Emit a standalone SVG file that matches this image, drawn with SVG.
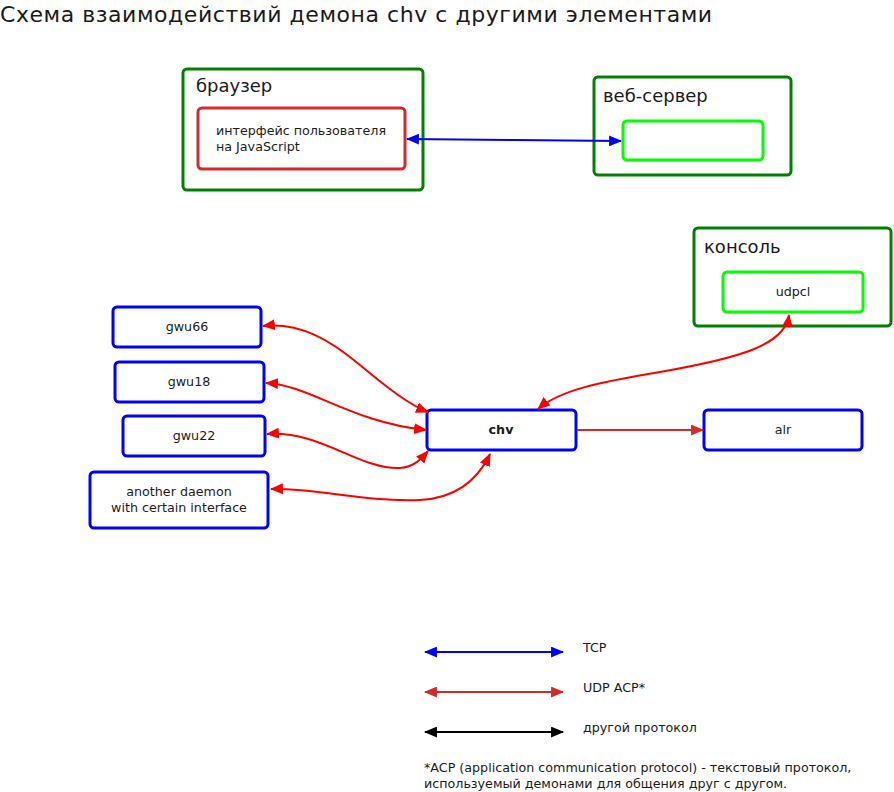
<svg xmlns="http://www.w3.org/2000/svg" width="894" height="792" viewBox="0 0 894 792">
<style>
text{font-family:"DejaVu Sans","Liberation Sans",sans-serif;fill:#1a1a1a}
.t{font-size:22px;letter-spacing:0.55px}
.h{font-size:18px}
.s{font-size:12.7px}
.c{text-anchor:middle}
.grp{fill:none;stroke:#008000;stroke-width:3}
.red{fill:#fff;stroke:#d42a2a;stroke-width:3}
.lime{fill:#fff;stroke:#00ff00;stroke-width:3}
.blue{fill:#fff;stroke:#0000ff;stroke-width:3}
.cr{fill:none;stroke:#ff0000;stroke-width:2}
</style>
<defs>
<marker id="aR" viewBox="0 0 12 10" markerWidth="13" markerHeight="11" refX="11" refY="5" orient="auto-start-reverse" markerUnits="userSpaceOnUse"><path d="M0,0 L12,5 L0,10 z" fill="#ff0000"/></marker>
<marker id="aD" viewBox="0 0 12 10" markerWidth="13" markerHeight="11" refX="11" refY="5" orient="auto-start-reverse" markerUnits="userSpaceOnUse"><path d="M0,0 L12,5 L0,10 z" fill="#d42a2a"/></marker>
<marker id="aB" viewBox="0 0 12 10" markerWidth="13" markerHeight="11" refX="11" refY="5" orient="auto-start-reverse" markerUnits="userSpaceOnUse"><path d="M0,0 L12,5 L0,10 z" fill="#0000ff"/></marker>
<marker id="aK" viewBox="0 0 12 10" markerWidth="13" markerHeight="11" refX="11" refY="5" orient="auto-start-reverse" markerUnits="userSpaceOnUse"><path d="M0,0 L12,5 L0,10 z" fill="#000000"/></marker>
</defs>
<rect width="894" height="792" fill="#fff"/>
<text class="t" x="0" y="22">Схема взаимодействий демона chv с другими элементами</text>

<g id="browser">
<rect class="grp" x="183" y="69" width="240" height="121" rx="4"/>
<text class="h" x="196" y="92">браузер</text>
</g>
<g id="js-ui">
<rect class="red" x="198" y="108" width="207" height="61" rx="4"/>
<text class="s" x="216" y="135">интерфейс пользователя</text>
<text class="s" x="216" y="151">на JavaScript</text>
</g>
<g id="webserver">
<rect class="grp" x="594" y="77" width="197" height="98" rx="4"/>
<text class="h" x="603" y="102">веб-сервер</text>
</g>
<g id="webserver-inner">
<rect class="lime" x="623" y="121" width="140" height="39" rx="4"/>
</g>
<g id="console">
<rect class="grp" x="694" y="228" width="197" height="98" rx="4"/>
<text class="h" x="704" y="253">консоль</text>
</g>
<g id="udpcl">
<rect class="lime" x="723" y="272" width="140" height="40" rx="4"/>
<text class="s c" x="793" y="296">udpcl</text>
</g>
<g id="chv">
<rect class="blue" x="427" y="410" width="149" height="40" rx="4"/>
<text class="s c" x="501" y="434" font-weight="bold">chv</text>
</g>
<g id="alr">
<rect class="blue" x="704" y="410" width="158" height="40" rx="4"/>
<text class="s c" x="783" y="434">alr</text>
</g>
<g id="gwu66">
<rect class="blue" x="113" y="307" width="148" height="40" rx="4"/>
<text class="s c" x="187" y="331">gwu66</text>
</g>
<g id="gwu18">
<rect class="blue" x="115" y="362" width="149" height="40" rx="4"/>
<text class="s c" x="189" y="386">gwu18</text>
</g>
<g id="gwu22">
<rect class="blue" x="123" y="416" width="142" height="40" rx="4"/>
<text class="s c" x="194" y="440">gwu22</text>
</g>
<g id="another">
<rect class="blue" x="90" y="472" width="178" height="56" rx="4"/>
<text class="s c" x="179" y="496">another daemon</text>
<text class="s c" x="179" y="512">with certain interface</text>
</g>

<g id="connectors">
<path d="M407,139 L515,140 L621,141" fill="none" stroke="#0000ff" stroke-width="2" marker-start="url(#aB)" marker-end="url(#aB)"/>
<path class="cr" d="M263,326 C300,322 330,340 360,365 S410,405 428,412" marker-start="url(#aR)" marker-end="url(#aR)"/>
<path class="cr" d="M266,383 C310,385 350,422 426,430" marker-start="url(#aR)" marker-end="url(#aR)"/>
<path class="cr" d="M267,434 C320,430 360,470 400,468 C415,467 422,458 428,451" marker-start="url(#aR)" marker-end="url(#aR)"/>
<path class="cr" d="M271,489 C320,488 360,502 420,500 C460,498 480,475 490,454" marker-start="url(#aR)" marker-end="url(#aR)"/>
<path class="cr" d="M789,315 C785,345 740,358 660,372 C600,382 560,390 538,409" marker-start="url(#aR)" marker-end="url(#aR)"/>
<path d="M577,430 L703,430" fill="none" stroke="#d42a2a" stroke-width="2" marker-end="url(#aD)"/>
</g>

<g id="legend">
<path d="M425,652 L563,652" stroke="#0000ff" stroke-width="2" marker-start="url(#aB)" marker-end="url(#aB)"/>
<path d="M425,692 L563,692" stroke="#d42a2a" stroke-width="2" marker-start="url(#aD)" marker-end="url(#aD)"/>
<path d="M425,732 L563,732" stroke="#000000" stroke-width="2" marker-start="url(#aK)" marker-end="url(#aK)"/>
<text class="s" x="583" y="652">TCP</text>
<text class="s" x="583" y="692">UDP ACP*</text>
<text class="s" x="583" y="732">другой протокол</text>
<text class="s" x="424" y="772">*ACP (application communication protocol) - текстовый протокол,</text>
<text class="s" x="424" y="788">используемый демонами для общения друг с другом.</text>
</g>
</svg>
